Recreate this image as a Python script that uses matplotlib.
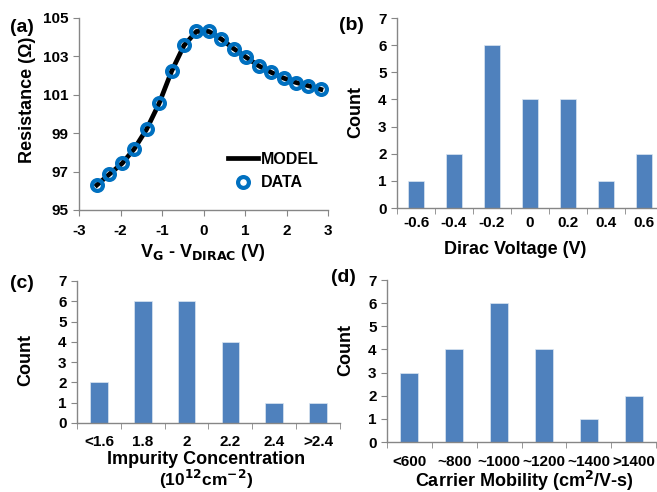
import numpy as np
import matplotlib.pyplot as plt

plt.rcParams['font.family'] = ['Liberation Sans', 'DejaVu Sans']
plt.rcParams['font.weight'] = 'bold'
plt.rcParams['axes.labelweight'] = 'bold'
plt.rcParams['axes.unicode_minus'] = False

# (a) resistance vs gate voltage
vg = [-2.57, -2.27, -1.96, -1.67, -1.37, -1.07, -0.77, -0.47, -0.17,
      0.13, 0.43, 0.73, 1.03, 1.33, 1.63, 1.93, 2.23, 2.53, 2.83]
res_data = [96.30, 96.86, 97.43, 98.18, 99.21, 100.55, 102.22, 103.57, 104.30,
            104.30, 103.90, 103.40, 102.95, 102.51, 102.17, 101.87, 101.64, 101.47, 101.28]
res_model = res_data

# (b) dirac voltage histogram
dirac_cats = ['-0.6', '-0.4', '-0.2', '0', '0.2', '0.4', '0.6']
dirac_counts = [1, 2, 6, 4, 4, 1, 2]

# (c) impurity concentration histogram
imp_cats = ['<1.6', '1.8', '2', '2.2', '2.4', '>2.4']
imp_counts = [2, 6, 6, 4, 1, 1]

# (d) carrier mobility histogram
mob_cats = ['<600', '~800', '~1000', '~1200', '~1400', '>1400']
mob_counts = [3, 4, 6, 4, 1, 2]

W, H = 657, 492
fig = plt.figure(figsize=(W / 100, H / 100), dpi=100)


def box(left, top, right, bottom):
    return [left / W, 1 - bottom / H, (right - left) / W, (bottom - top) / H]


def pt(x, y):
    return x / W, 1 - y / H


spine_c = '#868686'
bar_c = '#4F81BD'
tick_fs = 11
lab_fs = 13
tick_font = dict(fontsize=tick_fs, fontweight='bold')


def style(ax):
    for s in ['top', 'right']:
        ax.spines[s].set_visible(False)
    for s in ['left', 'bottom']:
        ax.spines[s].set_color(spine_c)
        ax.spines[s].set_linewidth(1)
    ax.tick_params(which='both', color=spine_c, length=4, direction='out')


def hist(ax, cats, counts, pad):
    n = len(cats)
    x = np.arange(n)
    ax.bar(x, counts, width=0.4, color=bar_c, edgecolor='#dce6f2', linewidth=0.5)
    ax.set_xlim(-0.5, n - 0.5)
    ax.set_ylim(0, 7)
    ax.set_yticks(range(8))
    ax.set_yticklabels([str(v) for v in range(8)], **tick_font)
    ax.set_xticks(x)
    ax.set_xticklabels(cats, **tick_font)
    ax.set_xticks(np.arange(n + 1) - 0.5, minor=True)
    style(ax)
    ax.tick_params(axis='x', which='minor', length=4)
    ax.tick_params(axis='x', which='major', length=0, pad=pad)


# panel a
ax1 = fig.add_axes(box(79, 18, 328, 210))
ax1.plot(vg, res_model, color='black', lw=3.4, label='MODEL', zorder=2)
ax1.plot(vg, res_data, ls='none', marker='o', ms=7.8, mfc='none', mec='#0070C0',
         mew=3.0, label='DATA', zorder=3)
ax1.set_xlim(-3, 3)
ax1.set_ylim(95, 105)
ax1.set_yticks(range(95, 106, 2))
ax1.set_yticklabels([str(v) for v in range(95, 106, 2)], **tick_font)
ax1.set_xticks(range(-3, 4))
ax1.set_xticklabels([str(v) for v in range(-3, 4)], **tick_font)
style(ax1)
ax1.tick_params(axis='x', pad=6)
ax1.set_xlabel('V$_\\mathbf{G}$ - V$_\\mathbf{DIRAC}$ (V)', fontsize=lab_fs)
ax1.xaxis.set_label_coords(*pt(203, 242), transform=fig.transFigure)
ax1.set_ylabel('Resistance (Ω)', fontsize=lab_fs)
ax1.yaxis.set_label_coords(*pt(36, 100), transform=fig.transFigure)
ax1.legend(loc='center', bbox_to_anchor=pt(273, 171), bbox_transform=fig.transFigure,
           frameon=False, fontsize=11.5, handlelength=1.9, handletextpad=0.15,
           labelspacing=0.55, borderaxespad=0)
fig.text(*pt(22, 27), '(a)', fontsize=14, ha='center', va='center')

# panel b
ax2 = fig.add_axes(box(397, 18, 663, 208))
hist(ax2, dirac_cats, dirac_counts, 6)
ax2.set_xlabel('Dirac Voltage (V)', fontsize=lab_fs)
ax2.xaxis.set_label_coords(*pt(515, 241), transform=fig.transFigure)
ax2.set_ylabel('Count', fontsize=lab_fs)
ax2.yaxis.set_label_coords(*pt(364, 112), transform=fig.transFigure)
fig.text(*pt(351, 25), '(b)', fontsize=14, ha='center', va='center')

# panel c
ax3 = fig.add_axes(box(77, 281, 340, 423))
hist(ax3, imp_cats, imp_counts, 9)
ax3.set_xlabel('Impurity Concentration', fontsize=lab_fs)
ax3.xaxis.set_label_coords(*pt(206, 451), transform=fig.transFigure)
fig.text(*pt(206, 491), '(10$^{\\mathbf{12}}$cm$^{\\mathbf{-2}}$)', fontsize=12.5,
         fontweight='bold', ha='center', va='bottom')
ax3.set_ylabel('Count', fontsize=lab_fs)
ax3.yaxis.set_label_coords(*pt(34, 360), transform=fig.transFigure)
fig.text(*pt(22, 283), '(c)', fontsize=14, ha='center', va='center')

# panel d
ax4 = fig.add_axes(box(387, 280, 656, 442))
hist(ax4, mob_cats, mob_counts, 9)
ax4.set_xlabel('Carrier Mobility (cm$^{\\mathbf{2}}$/V-s)', fontsize=lab_fs)
ax4.xaxis.set_label_coords(*pt(524, 469), transform=fig.transFigure)
ax4.set_ylabel('Count', fontsize=lab_fs)
ax4.yaxis.set_label_coords(*pt(354, 350), transform=fig.transFigure)
fig.text(*pt(343, 278), '(d)', fontsize=14, ha='center', va='center')

fig.savefig('out.png', dpi=100)
